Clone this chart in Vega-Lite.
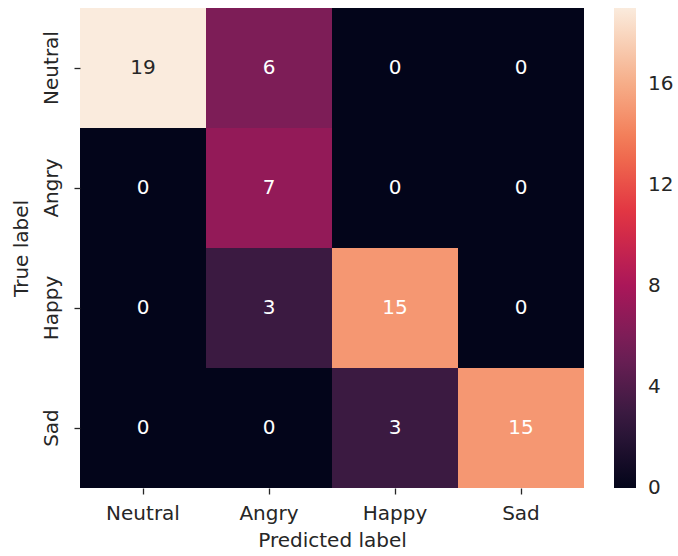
{
  "$schema": "https://vega.github.io/schema/vega-lite/v6.json",
  "width": 504,
  "height": 480,
  "autosize": {"type": "none"},
  "padding": {"left": 80, "top": 8, "right": 94, "bottom": 68},
  "background": "white",
  "config": {
    "font": "DejaVu Sans",
    "view": {"stroke": null},
    "axis": {"labelFont": "DejaVu Sans", "titleFont": "DejaVu Sans", "labelFontSize": 20, "titleFontSize": 20, "titleFontWeight": "normal", "labelColor": "#262626", "titleColor": "#262626", "tickColor": "#262626", "domain": false, "tickSize": 6, "tickWidth": 1.3}
  },
  "data": {"values": [
    {"true": "Neutral", "pred": "Neutral", "n": 19},
    {"true": "Neutral", "pred": "Angry", "n": 6},
    {"true": "Neutral", "pred": "Happy", "n": 0},
    {"true": "Neutral", "pred": "Sad", "n": 0},
    {"true": "Angry", "pred": "Neutral", "n": 0},
    {"true": "Angry", "pred": "Angry", "n": 7},
    {"true": "Angry", "pred": "Happy", "n": 0},
    {"true": "Angry", "pred": "Sad", "n": 0},
    {"true": "Happy", "pred": "Neutral", "n": 0},
    {"true": "Happy", "pred": "Angry", "n": 3},
    {"true": "Happy", "pred": "Happy", "n": 15},
    {"true": "Happy", "pred": "Sad", "n": 0},
    {"true": "Sad", "pred": "Neutral", "n": 0},
    {"true": "Sad", "pred": "Angry", "n": 0},
    {"true": "Sad", "pred": "Happy", "n": 3},
    {"true": "Sad", "pred": "Sad", "n": 15}
  ]},
  "encoding": {
    "x": {"field": "pred", "type": "nominal", "sort": ["Neutral", "Angry", "Happy", "Sad"], "title": "Predicted label",
      "scale": {"paddingInner": 0, "paddingOuter": 0},
      "axis": {"labelAngle": 0, "labelPadding": 9, "titlePadding": 7}},
    "y": {"field": "true", "type": "nominal", "sort": ["Neutral", "Angry", "Happy", "Sad"], "title": "True label",
      "scale": {"paddingInner": 0, "paddingOuter": 0},
      "axis": {"labelAngle": -90, "labelAlign": "center", "labelBaseline": "bottom", "labelPadding": 13, "titlePadding": 10}}
  },
  "layer": [
    {
      "mark": {"type": "rect"},
      "encoding": {
        "color": {"field": "n", "type": "quantitative",
          "scale": {"domain": [0, 19], "range": ["#03051a", "#35193e", "#701f57", "#ad1759", "#e13342", "#f37651", "#f6b48f", "#faebdd"], "interpolate": "rgb"},
          "legend": {"title": null, "type": "gradient", "direction": "vertical", "gradientLength": 480, "gradientThickness": 22, "values": [0, 4, 8, 12, 16], "labelFontSize": 20, "labelFont": "DejaVu Sans", "labelColor": "#262626", "labelOverlap": false, "offset": 30, "padding": 0, "labelOffset": 12, "gradientStrokeWidth": 0, "labelBaseline": "middle",
            "encode": {"labels": {"update": {"baseline": {"value": "middle"}}}}}
        }
      }
    },
    {
      "mark": {"type": "text", "fontSize": 20, "font": "DejaVu Sans"},
      "encoding": {
        "text": {"field": "n", "type": "quantitative"},
        "color": {"condition": {"test": "datum.n > 16", "value": "#262626"}, "value": "#ffffff"}
      }
    }
  ]
}
